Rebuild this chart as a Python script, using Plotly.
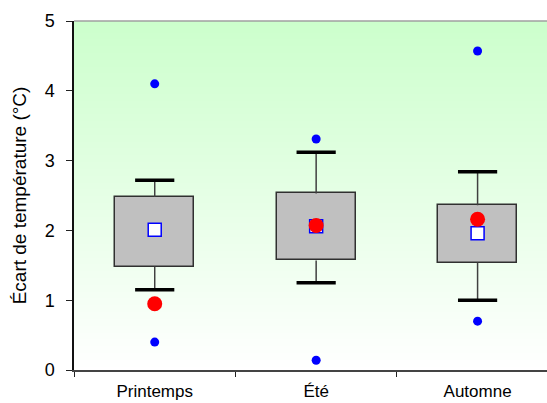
import base64
import struct
import zlib

import plotly.graph_objects as go

# Seasonal temperature deviation summaries (°C)
saisons = ["Printemps", "Été", "Automne"]
q1 = [1.48, 1.57, 1.54]
q3 = [2.48, 2.53, 2.36]
moustache_bas = [1.15, 1.25, 1.00]
moustache_haut = [2.72, 3.12, 2.84]
moyenne = [2.01, 2.06, 1.96]
point_rouge = [0.95, 2.07, 2.16]
extreme_bas = [0.40, 0.14, 0.70]
extreme_haut = [4.10, 3.31, 4.57]

y_ticks = [0, 1, 2, 3, 4, 5]


def gradient_png(top, bottom, n=256):
    """Vertical 1-px-wide PNG going from `top` colour to `bottom` colour."""
    rows = b""
    for i in range(n):
        t = i / (n - 1)
        px = bytes(round(top[k] + (bottom[k] - top[k]) * t) for k in range(3))
        rows += b"\x00" + px

    def chunk(tag, data):
        c = struct.pack(">I", len(data)) + tag + data
        return c + struct.pack(">I", zlib.crc32(tag + data) & 0xFFFFFFFF)

    png = b"\x89PNG\r\n\x1a\n"
    png += chunk(b"IHDR", struct.pack(">IIBBBBB", 1, n, 8, 2, 0, 0, 0))
    png += chunk(b"IDAT", zlib.compress(rows))
    png += chunk(b"IEND", b"")
    return "data:image/png;base64," + base64.b64encode(png).decode()


fig = go.Figure()

# Whiskers
wx, wy = [], []
for s, lo, hi, a, b in zip(saisons, moustache_bas, moustache_haut, q1, q3):
    wx += [s, s, None, s, s, None]
    wy += [b, hi, None, a, lo, None]
fig.add_trace(go.Scatter(x=wx, y=wy, mode="lines",
                         line=dict(color="#404040", width=1.5),
                         hoverinfo="skip", showlegend=False))

# Whisker caps
fig.add_trace(go.Scatter(x=saisons * 2, y=moustache_haut + moustache_bas,
                         mode="markers",
                         marker=dict(symbol="line-ew", size=28,
                                     line=dict(color="black", width=3.5)),
                         showlegend=False))

# Interquartile boxes
fig.add_trace(go.Bar(x=saisons, y=[b - a for a, b in zip(q1, q3)], base=q1,
                     width=0.49,
                     marker=dict(color="#C0C0C0",
                                 line=dict(color="#303030", width=1.5)),
                     showlegend=False))

# Extreme values
fig.add_trace(go.Scatter(x=saisons * 2, y=extreme_haut + extreme_bas,
                         mode="markers",
                         marker=dict(symbol="circle", size=9, color="#0000FF"),
                         showlegend=False))

# Mean
fig.add_trace(go.Scatter(x=saisons, y=moyenne, mode="markers",
                         marker=dict(symbol="square", size=13, color="white",
                                     line=dict(color="#0000FF", width=1.5)),
                         showlegend=False))

# Red marker
fig.add_trace(go.Scatter(x=saisons, y=point_rouge, mode="markers",
                         marker=dict(symbol="circle", size=15, color="#FF0000"),
                         showlegend=False))

fig.update_layout(
    width=547, height=403,
    margin=dict(l=74, r=0, t=21, b=33),
    paper_bgcolor="white",
    plot_bgcolor="rgba(0,0,0,0)",
    font=dict(family="Liberation Sans, Arial, sans-serif", color="black"),
    bargap=0,
    images=[dict(source=gradient_png((204, 255, 204), (255, 255, 255)),
                 xref="paper", yref="paper", x=0, y=1, sizex=1, sizey=1,
                 sizing="stretch", xanchor="left", yanchor="top",
                 layer="below")],
    shapes=[dict(type="line", xref="paper", yref="paper",
                 x0=0, x1=1, y0=1, y1=1,
                 line=dict(color="#A0A0A0", width=1.5))],
)

fig.update_xaxes(
    type="category", categoryorder="array", categoryarray=saisons,
    range=[-0.5, 2.43], tickson="boundaries",
    ticks="outside", ticklen=5, tickcolor="#222", tickwidth=1,
    showline=True, linecolor="#444", linewidth=1.5,
    showgrid=False, zeroline=False, automargin=False,
    tickfont=dict(size=17), ticklabelstandoff=5, fixedrange=True,
)
fig.update_yaxes(
    range=[0, 5], tickvals=y_ticks,
    ticks="outside", ticklen=6, tickcolor="#222", tickwidth=1,
    showline=True, linecolor="#111", linewidth=1.5,
    showgrid=False, zeroline=False, automargin=False,
    tickfont=dict(size=18), ticklabelstandoff=8,
    title=dict(text="Écart de température (°C)", font=dict(size=19), standoff=13),
)

fig.write_html("out.html")
